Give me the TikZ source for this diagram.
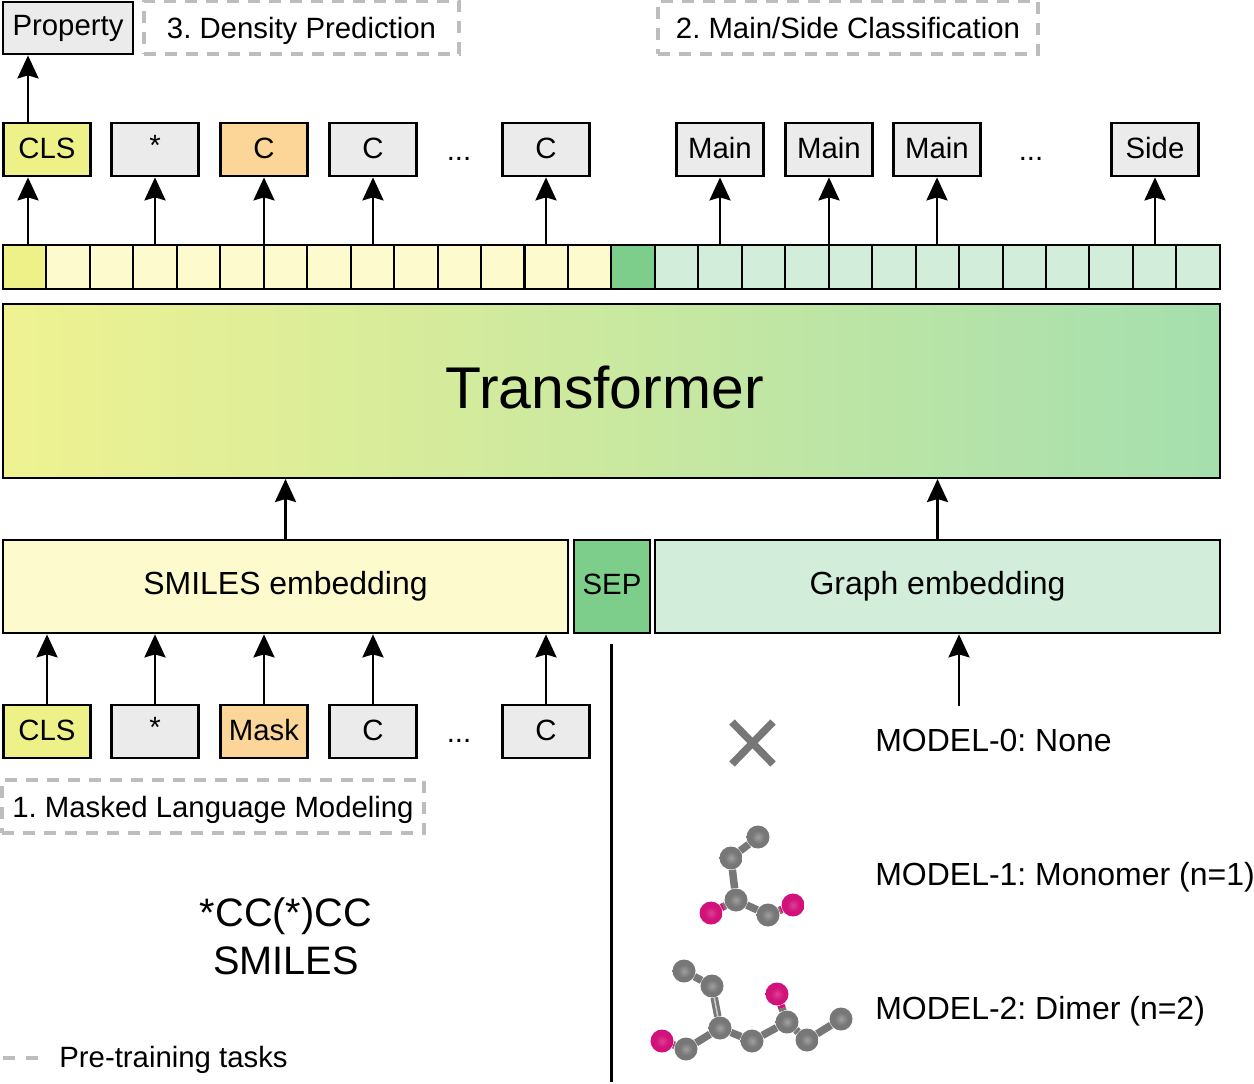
\documentclass[tikz,border=0pt]{standalone}
\usepackage{fontspec}
\setmainfont{Liberation Sans}
\usetikzlibrary{arrows.meta,calc,backgrounds}
\definecolor{boxgray}{HTML}{EBEBEB}
\definecolor{clsyellow}{HTML}{EEF188}
\definecolor{maskorange}{HTML}{FBD698}
\definecolor{smilesyellow}{HTML}{FDFBCD}
\definecolor{graphgreen}{HTML}{D2EEDA}
\definecolor{sepgreen}{HTML}{7DCE8A}
\definecolor{dashgray}{HTML}{BDBDBD}
\definecolor{atompink}{HTML}{D2127A}
\definecolor{atomgray}{HTML}{777777}
\definecolor{transleft}{HTML}{EFF291}
\definecolor{transmid}{HTML}{D0E9A0}
\definecolor{transright}{HTML}{A5DFAE}
\pgfdeclareradialshading{carbonball}{\pgfpointorigin}{color(0bp)=(atomgray!70!white); color(14bp)=(atomgray); color(38bp)=(atomgray); color(50bp)=(atomgray!80!black)}
\pgfdeclareradialshading{oxygenball}{\pgfpointorigin}{color(0bp)=(atompink!80!white); color(14bp)=(atompink); color(34bp)=(atompink); color(50bp)=(atompink!75!black)}
\frenchspacing
\begin{document}
\begin{tikzpicture}[x=0.02cm, y=-0.02cm,
token/.style={rectangle,draw,line width=0.055cm,fill=boxgray,minimum width=1.74cm,minimum height=1.06cm,inner sep=0pt,text depth=1.6pt,font=\fontsize{16.7}{20}\selectfont},
stripcell/.style={rectangle,draw,line width=0.04cm,minimum width=0.869cm,minimum height=0.88cm,inner sep=0pt},
embed/.style={rectangle,draw,line width=0.055cm,minimum height=1.86cm,inner sep=0pt,font=\fontsize{18.2}{22}\selectfont},
task/.style={rectangle,draw=dashgray,line width=0.065cm,dash pattern=on 0.24cm off 0.18cm,minimum height=1.06cm,inner sep=0pt,text height=12pt,text depth=0pt,font=\fontsize{16.7}{20}\selectfont},
plain/.style={inner sep=0pt,text height=13pt,text depth=0pt,font=\fontsize{18.2}{22}\selectfont},
small/.style={inner sep=0pt,text height=12pt,text depth=0pt,font=\fontsize{16.7}{20}\selectfont},
arrow/.style={line width=0.055cm,-{Stealth[length=0.46cm,width=0.42cm,inset=0.06cm]}},
carbon/.style={circle,shading=carbonball,minimum size=0.46cm,inner sep=0pt},
oxygen/.style={circle,shading=oxygenball,minimum size=0.46cm,inner sep=0pt},
bond/.style={line width=0.15cm,draw=atomgray},
pinkbond/.style={line width=0.15cm,draw=atompink},
    ]
  \useasboundingbox (0,0) rectangle (1254,1083);

  % top row
  \node[token,minimum width=2.6cm,minimum height=1.04cm,text depth=2.5pt] (property) at (68,28) {Property};
  \node[task,minimum width=6.3cm] (density) at (301.5,27.5) {3. Density Prediction};
  \node[task,minimum width=7.6cm] (mainside) at (848,27.5) {2. Main/Side Classification};

  \foreach \nm/\txt/\xc/\clr in {outcls/CLS/47/clsyellow, outstar/\raisebox{.17em}{*}/155/boxgray, outmask/C/264/maskorange,
      outc/C/373/boxgray, outlast/C/546/boxgray, outmaina/Main/720/boxgray, outmainb/Main/829/boxgray,
      outmainc/Main/937/boxgray, outside/Side/1155/boxgray}
    \node[token,fill=\clr] (\nm) at (\xc,149.5) {\txt};
  \node[small] (outdotsa) at (459,149.5) {...};
  \node[small] (outdotsb) at (1031,149.5) {...};

  % output strip
  \foreach \i in {0,...,13}
    \node[stripcell,fill=smilesyellow] (cell\i) at ({24.7+43.46*\i},267) {};
  \foreach \i in {15,...,27}
    \node[stripcell,fill=graphgreen] (cell\i) at ({24.7+43.46*\i},267) {};
  \node[stripcell,fill=clsyellow] (cell0) at (24.7,267) {};
  \node[stripcell,fill=sepgreen] (cell14) at ({24.7+43.46*14},267) {};

  \coordinate (clsup) at (28,245);
  \draw[arrow] (clsup) -- (clsup |- outcls.south);
  \draw[arrow] (clsup |- outcls.north) -- (clsup |- property.south);
  \foreach \nm in {outstar,outmask,outc,outlast,outmaina,outmainb,outmainc,outside}
    \draw[arrow] (\nm.south |- cell0.north) -- (\nm.south);

  % transformer
  \node[rectangle,draw,line width=0.04cm,minimum width=24.34cm,minimum height=3.48cm,inner sep=0pt,
    left color=transleft,middle color=transmid,right color=transright] (transformer) at (611.5,391) {};
  \node[inner sep=0pt,font=\fontsize{33.5}{40}\selectfont] (translabel) at (604.5,387) {Transformer};

  % embeddings
  \node[embed,fill=smilesyellow,minimum width=11.3cm] (smilesemb) at (285.5,586.5) {SMILES embedding};
  \node[embed,fill=sepgreen,minimum width=1.52cm,text depth=2.5pt,font=\fontsize{16.7}{20}\selectfont] (sep) at (612,586.5) {SEP};
  \node[embed,fill=graphgreen,minimum width=11.3cm] (graphemb) at (937.5,586.5) {Graph embedding};
  \draw[arrow] (smilesemb.north) -- (smilesemb.north |- transformer.south);
  \draw[arrow] (graphemb.north) -- (graphemb.north |- transformer.south);

  % input tokens
  \foreach \nm/\txt/\xc/\clr in {incls/CLS/47/clsyellow, instar/\raisebox{.17em}{*}/155/boxgray, inmask/Mask/264/maskorange,
      inc/C/373/boxgray, inlast/C/546/boxgray}
    \node[token,fill=\clr] (\nm) at (\xc,731.5) {\txt};
  \node[small] (indots) at (459,731.5) {...};
  \foreach \nm in {incls,instar,inmask,inc,inlast}
    \draw[arrow] (\nm.north) -- (\nm.north |- smilesemb.south);

  \node[task,minimum width=8.44cm] (masked) at (213,806.5) {1. Masked Language Modeling};
  \node[inner sep=0pt,align=center,font=\fontsize{22.6}{27.5}\selectfont] (smilestext) at (286,936) {*CC(*)CC\\SMILES};

  % legend
  \coordinate (legstart) at (3,1058);
  \coordinate (legend) at (38,1058);
  \draw[draw=dashgray,line width=0.07cm,dash pattern=on 0.24cm off 0.22cm] (legstart) -- (legend);
  \node[small,anchor=west] (legtext) at (59,1056.5) {Pre-training tasks};

  % right side
  \coordinate (septop) at (611.5,644);
  \coordinate (sepbot) at (611.5,1082);
  \draw[line width=0.05cm] (septop) -- (sepbot);
  \coordinate (graphin) at (959,706);
  \draw[arrow] (graphin) -- (graphin |- graphemb.south);

  \node[plain,anchor=west] (modelzero) at (875,740) {MODEL-0: None};
  \node[plain,anchor=west] (modelone) at (875,874) {MODEL-1: Monomer (n=1)};
  \node[plain,anchor=west] (modeltwo) at (875,1008) {MODEL-2: Dimer (n=2)};

  \draw[line width=0.15cm,draw=atomgray] (732,722) -- (773,764);
  \draw[line width=0.15cm,draw=atomgray] (773,722) -- (732,764);

  % monomer
  \node[carbon] (ma) at (758,837) {};
  \node[carbon] (mb) at (731,858) {};
  \node[carbon] (mc) at (736,900) {};
  \node[carbon] (md) at (768,915) {};
  \node[oxygen] (me) at (711,913) {};
  \node[oxygen] (mf) at (793,905) {};

  % dimer
  \node[carbon] (da) at (684,971) {};
  \node[carbon] (db) at (712,986) {};
  \node[carbon] (dc) at (720,1028) {};
  \node[carbon] (dd) at (752,1041) {};
  \node[carbon] (de) at (787,1022) {};
  \node[carbon] (df) at (807,1040) {};
  \node[carbon] (dg) at (841,1019) {};
  \node[carbon] (dh) at (686,1049) {};
  \node[oxygen] (di) at (662,1041) {};
  \node[oxygen] (dj) at (777,994) {};

  \begin{scope}[on background layer]
    \foreach \p/\q in {ma/mb,mb/mc,mc/md,da/db,db/dc,dc/dd,dd/de,de/df,df/dg,dc/dh}
      \draw[bond] (\p) -- (\q);
    \draw[line width=0.03cm,draw=gray!40] (db) -- (dc);
    \foreach \p/\q in {mc/me,md/mf,dh/di,de/dj} {
      \draw[bond] (\p) -- ($(\p)!.5!(\q)$);
      \draw[pinkbond] ($(\p)!.5!(\q)$) -- (\q);
    }
  \end{scope}
\end{tikzpicture}
\end{document}
